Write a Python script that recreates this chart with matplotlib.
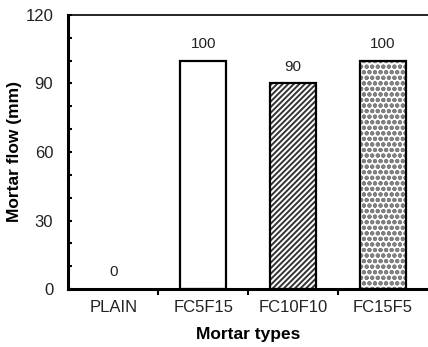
import matplotlib
matplotlib.use("Agg")
import matplotlib.pyplot as plt
from matplotlib.ticker import MultipleLocator, FixedLocator, NullFormatter

plt.rcParams['font.family'] = ['Liberation Sans', 'DejaVu Sans']
plt.rcParams['hatch.linewidth'] = 1.4

types = ['PLAIN', 'FC5F15', 'FC10F10', 'FC15F5']
flow = [0, 100, 90, 100]
hatches = ['', '', '//////', 'ooo']

fig = plt.figure(figsize=(4.28, 3.47), dpi=100)
ax = fig.add_axes([0.160, 0.167, 0.840, 0.790])

x = list(range(len(types)))
for i, (v, h) in enumerate(zip(flow, hatches)):
    if i == 0:
        continue
    if h:
        # hatch drawn in its own colour, then the black outline on top
        hc = '#333333' if h.startswith('/') else '#808080'
        ax.bar(i, v, width=0.51, color='white', edgecolor=hc, hatch=h, linewidth=0)
    ax.bar(i, v, width=0.51, facecolor='none', edgecolor='black', linewidth=1.6)

for i, v in enumerate(flow):
    ax.annotate(str(v), (i, v), xytext=(0, 7), textcoords='offset points',
                ha='center', va='bottom', fontsize=11, color='#222222')

ax.set_xlim(-0.5, 3.5)
ax.set_ylim(0, 120)

ax.yaxis.set_major_locator(MultipleLocator(30))
ax.yaxis.set_minor_locator(MultipleLocator(10))
ax.tick_params(axis='y', which='both', direction='in', length=3, width=1.5,
               labelsize=12, labelcolor='#222222', pad=11)

ax.xaxis.set_major_locator(FixedLocator([0.5, 1.5, 2.5]))
ax.xaxis.set_major_formatter(NullFormatter())
ax.xaxis.set_minor_locator(FixedLocator(x))
ax.set_xticklabels(types, minor=True)
ax.tick_params(axis='x', which='major', direction='out', length=4, width=1.5)
ax.tick_params(axis='x', which='minor', length=0, labelsize=12, pad=8,
               labelcolor='#222222')

ax.spines['right'].set_visible(False)
ax.spines['left'].set_linewidth(2.2)
ax.spines['bottom'].set_linewidth(2.2)
ax.spines['top'].set_linewidth(1.2)

ax.set_ylabel('Mortar flow (mm)', fontsize=12.5, fontweight='bold')
ax.set_xlabel('Mortar types', fontsize=12.5, fontweight='bold')
ax.yaxis.set_label_coords(-0.128, 0.5)
ax.xaxis.set_label_coords(0.5, -0.138)

fig.savefig('out.png', dpi=100)
